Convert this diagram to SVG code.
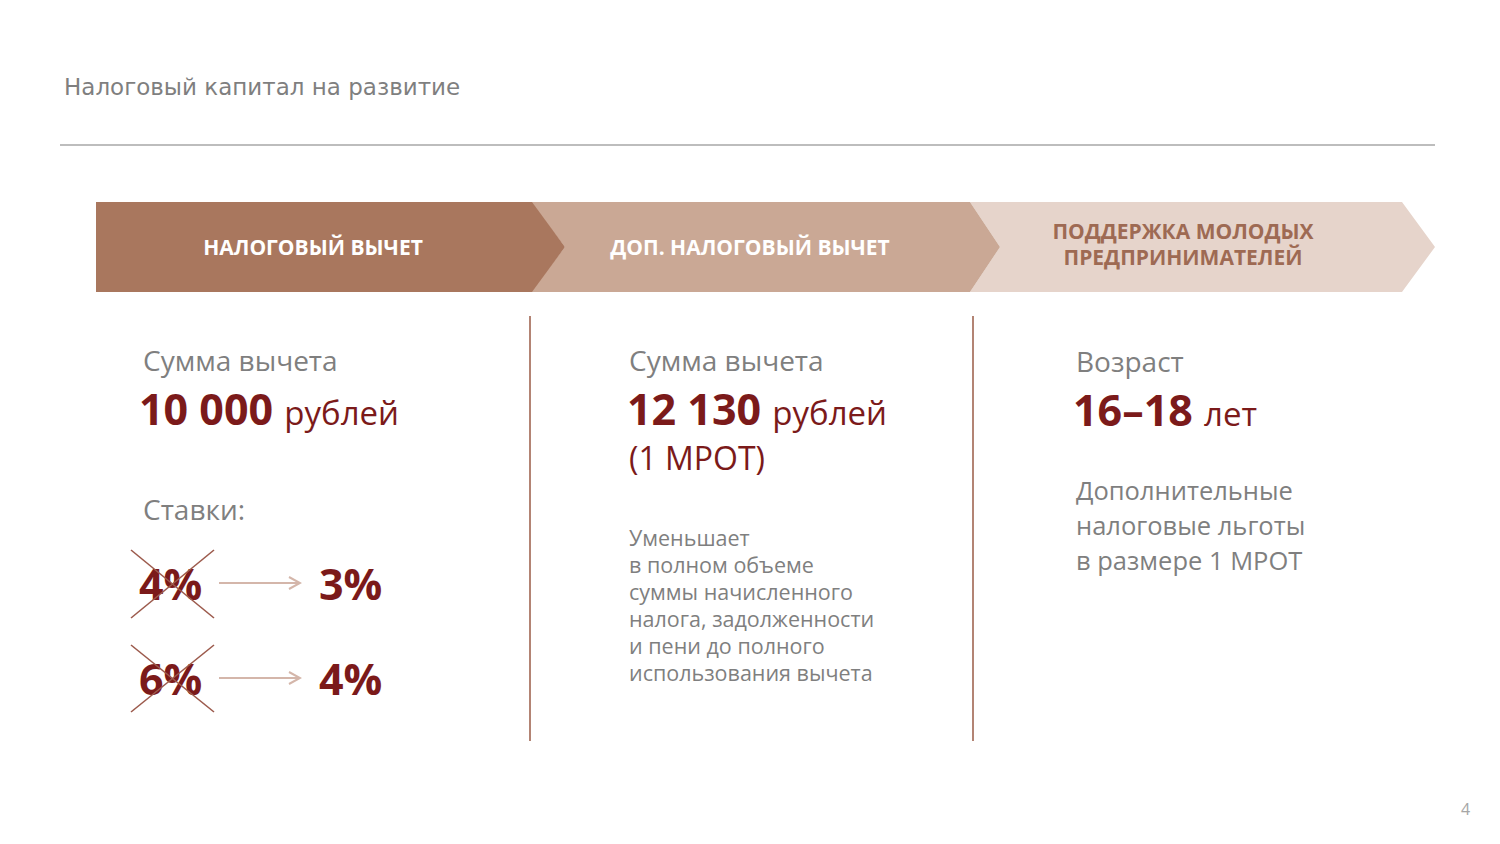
<svg xmlns="http://www.w3.org/2000/svg" width="1500" height="844" viewBox="0 0 1500 844">
<style>
.t{font-family:"Open Sans","DejaVu Sans",sans-serif;}
.title{font-family:"DejaVu Sans","Open Sans",sans-serif;font-size:23px;fill:#7f7f7f;}
.hdr{font-family:"Open Sans",sans-serif;font-weight:bold;font-size:21px;text-anchor:middle;}
.lbl{font-size:28px;fill:#7f7f7f;}
.big{font-size:43px;font-weight:bold;fill:#7b1a1a;}
.unit{font-size:33px;font-weight:normal;fill:#7b1a1a;}
.body{font-size:21.5px;fill:#7f7f7f;}
.body2{font-size:25.5px;fill:#7f7f7f;}
.div{stroke:#b38474;stroke-width:2;}
.x{stroke:#9c5a4c;stroke-width:1.6;}
.arr{stroke:#d4b6aa;stroke-width:2;fill:none;}
</style>
<defs>
<marker id="ah" markerWidth="14" markerHeight="14" refX="12" refY="7" orient="auto" markerUnits="userSpaceOnUse">
<path d="M1,1 L12,7 L1,13" fill="none" stroke="#d4b6aa" stroke-width="2"/>
</marker>
</defs>
<rect width="1500" height="844" fill="#ffffff"/>
<g id="header">
<text class="title" x="64" y="95">Налоговый капитал на развитие</text>
<line x1="60" y1="145" x2="1435" y2="145" stroke="#bdbdbd" stroke-width="2"/>
</g>
<g id="chev3">
<polygon points="970,202 1402,202 1435,247 1402,292 970,292 1000,247" fill="#e6d4cb"/>
<text class="hdr" fill="#9e6a53" x="1183" y="239" font-size="20.5">ПОДДЕРЖКА МОЛОДЫХ</text>
<text class="hdr" fill="#9e6a53" x="1183" y="265" font-size="20.5">ПРЕДПРИНИМАТЕЛЕЙ</text>
</g>
<g id="chev2">
<polygon points="530,202 970,202 1000,247 970,292 530,292 565,247" fill="#caa895"/>
<text class="hdr" fill="#ffffff" x="750" y="255">ДОП. НАЛОГОВЫЙ ВЫЧЕТ</text>
</g>
<g id="chev1">
<polygon points="96,202 532,202 565,247 532,292 96,292" fill="#a9775e"/>
<text class="hdr" fill="#ffffff" x="313" y="255">НАЛОГОВЫЙ ВЫЧЕТ</text>
</g>
<g id="dividers">
<line class="div" x1="530" y1="316" x2="530" y2="741"/>
<line class="div" x1="973" y1="316" x2="973" y2="741"/>
</g>
<g id="col1">
<text class="t lbl" x="143" y="371">Сумма вычета</text>
<text class="t big" x="139" y="425">10 000 <tspan class="unit">рублей</tspan></text>
<text class="t lbl" x="143" y="520">Ставки:</text>
<text class="t big" x="139" y="600">4%</text>
<line class="x" x1="131" y1="550" x2="214" y2="618"/>
<line class="x" x1="131" y1="618" x2="214" y2="550"/>
<text class="t big" x="139" y="695">6%</text>
<line class="x" x1="131" y1="645" x2="214" y2="712"/>
<line class="x" x1="131" y1="712" x2="214" y2="645"/>
<text class="t big" x="319" y="600">3%</text>
<text class="t big" x="319" y="695">4%</text>
</g>
<g id="connectors">
<line class="arr" x1="219" y1="583" x2="300" y2="583" marker-end="url(#ah)"/>
<line class="arr" x1="219" y1="678" x2="300" y2="678" marker-end="url(#ah)"/>
</g>
<g id="col2">
<text class="t lbl" x="629" y="371">Сумма вычета</text>
<text class="t big" x="627" y="425">12 130 <tspan class="unit">рублей</tspan></text>
<text class="t" x="629" y="470" font-size="32" fill="#7b1a1a">(1 МРОТ)</text>
<text class="t body" x="629" y="546">Уменьшает</text>
<text class="t body" x="629" y="573">в полном объеме</text>
<text class="t body" x="629" y="600">суммы начисленного</text>
<text class="t body" x="629" y="627">налога, задолженности</text>
<text class="t body" x="629" y="654">и пени до полного</text>
<text class="t body" x="629" y="681">использования вычета</text>
</g>
<g id="col3">
<text class="t lbl" x="1076" y="372">Возраст</text>
<text class="t big" x="1073" y="426">16–18 <tspan class="unit">лет</tspan></text>
<text class="t body2" x="1076" y="500">Дополнительные</text>
<text class="t body2" x="1076" y="535">налоговые льготы</text>
<text class="t body2" x="1076" y="570">в размере 1 МРОТ</text>
</g>
<text class="t" x="1461" y="815" font-size="16" fill="#a6a6a6">4</text>
</svg>
